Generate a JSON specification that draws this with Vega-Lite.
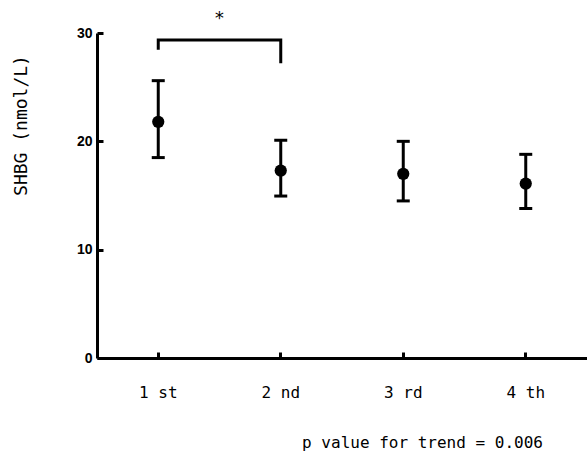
{
  "$schema": "https://vega.github.io/schema/vega-lite/v6.json",
  "width": 490,
  "height": 325,
  "autosize": {"type": "none"},
  "padding": {"left": 97, "top": 33, "right": 0, "bottom": 95},
  "background": "white",
  "config": {"view": {"stroke": null}, "axis": {"titleColor": "black", "labelColor": "black"}},
  "datasets": {
    "q": [
      {"quartile": "1 st", "mean": 21.8, "lower": 18.5, "upper": 25.6},
      {"quartile": "2 nd", "mean": 17.3, "lower": 14.95, "upper": 20.1},
      {"quartile": "3 rd", "mean": 17.0, "lower": 14.5, "upper": 20.0},
      {"quartile": "4 th", "mean": 16.1, "lower": 13.8, "upper": 18.8}
    ],
    "bracket": [
      {"quartile": "1 st", "y": 28.45, "o": 1},
      {"quartile": "1 st", "y": 29.35, "o": 2},
      {"quartile": "2 nd", "y": 29.35, "o": 3},
      {"quartile": "2 nd", "y": 27.2, "o": 4}
    ],
    "star": [{"quartile": "1 st", "y": 31.3, "label": "*"}]
  },
  "encoding": {
    "x": {
      "field": "quartile",
      "type": "nominal",
      "sort": ["1 st", "2 nd", "3 rd", "4 th"],
      "scale": {"type": "band", "paddingInner": 0, "paddingOuter": 0, "domain": ["1 st", "2 nd", "3 rd", "4 th"]},
      "axis": {
        "title": "p value for trend = 0.006",
        "titleFont": "DejaVu Sans Mono",
        "titleFontSize": 16,
        "titleFontWeight": "normal",
        "titleColor": "black",
        "titleX": 325,
        "titleY": 84,
        "titleAlign": "center",
        "titleBaseline": "middle",
        "labelAngle": 0,
        "labelFont": "DejaVu Sans Mono",
        "labelFontSize": 16,
        "labelColor": "black",
        "labelBaseline": "middle",
        "labelPadding": 40,
        "tickSize": -6,
        "tickWidth": 3,
        "tickColor": "black",
        "domainWidth": 3,
        "domainColor": "black",
        "encode": {
          "labels": {
            "update": {
              "dx": {"signal": "datum.value === '1 st' ? -4 : datum.value === '2 nd' ? -3 : datum.value === '3 rd' ? -12 : 6"},
              "dy": {"signal": "datum.value === '1 st' ? -4 : datum.value === '4 th' ? 4 : 1"}
            }
          }
        }
      }
    }
  },
  "layer": [
    {
      "data": {"name": "q"},
      "mark": {"type": "rule", "strokeWidth": 3, "color": "black"},
      "encoding": {
        "y": {
          "field": "lower",
          "type": "quantitative",
          "title": "SHBG (nmol/L)",
          "scale": {"domain": [0, 30], "nice": false, "zero": true},
          "axis": {
            "values": [0, 10, 20, 30],
            "grid": false,
            "labelFont": "Liberation Sans",
            "labelFontWeight": "bold",
            "labelFontSize": 14,
            "labelColor": "black",
            "labelPadding": 11,
            "tickSize": -6,
            "tickWidth": 3,
            "tickColor": "black",
            "domainWidth": 3,
            "domainColor": "black",
            "titleFont": "DejaVu Sans Mono",
            "titleFontSize": 18,
            "titleFontWeight": "normal",
            "titleColor": "black",
            "titleX": -76,
            "titleY": 92,
            "titleAlign": "center",
            "titleBaseline": "middle"
          }
        },
        "y2": {"field": "upper"}
      }
    },
    {
      "data": {"name": "q"},
      "mark": {"type": "tick", "thickness": 3, "size": 13, "color": "black", "opacity": 1, "orient": "horizontal"},
      "encoding": {"y": {"field": "lower", "type": "quantitative", "title": "SHBG (nmol/L)"}}
    },
    {
      "data": {"name": "q"},
      "mark": {"type": "tick", "thickness": 3, "size": 13, "color": "black", "opacity": 1, "orient": "horizontal"},
      "encoding": {"y": {"field": "upper", "type": "quantitative", "title": "SHBG (nmol/L)"}}
    },
    {
      "data": {"name": "q"},
      "mark": {"type": "point", "filled": true, "size": 150, "color": "black", "opacity": 1},
      "encoding": {"y": {"field": "mean", "type": "quantitative", "title": "SHBG (nmol/L)"}}
    },
    {
      "data": {"name": "bracket"},
      "mark": {"type": "line", "strokeWidth": 3, "color": "black", "strokeJoin": "miter", "strokeCap": "butt", "clip": false},
      "encoding": {
        "y": {"field": "y", "type": "quantitative", "title": "SHBG (nmol/L)"},
        "order": {"field": "o", "type": "quantitative"}
      }
    },
    {
      "data": {"name": "star"},
      "mark": {"type": "text", "font": "DejaVu Sans Mono", "fontSize": 18, "baseline": "middle", "align": "center", "color": "black", "clip": false},
      "encoding": {
        "x": {"field": "quartile", "type": "nominal", "bandPosition": 1},
        "y": {"field": "y", "type": "quantitative", "title": "SHBG (nmol/L)"},
        "text": {"field": "label"}
      }
    }
  ]
}
